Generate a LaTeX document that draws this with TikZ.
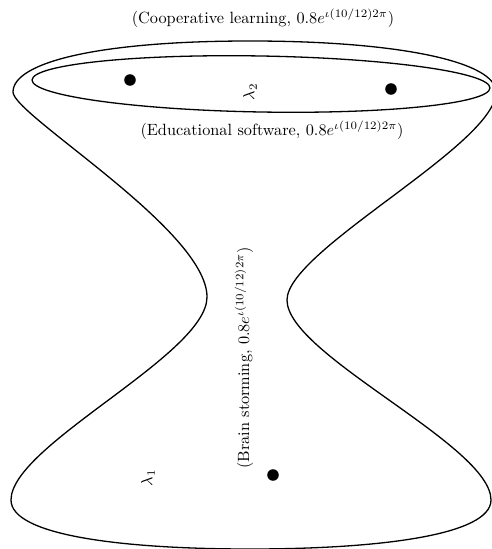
\documentclass[tikz,border=0pt]{standalone}
\usepackage{amsmath,amssymb}
\usepackage{tikz}
\usetikzlibrary{positioning}
\usepackage{xcolor}

\begin{document}
\begin{tikzpicture}[x=0.0216cm,y=-0.0216cm,
  dot/.style={circle,fill=black,inner sep=0pt,minimum size=0.25cm},
  lam/.style={rotate=90,inner sep=1pt},
  curve/.style={line width=0.8pt}]
\useasboundingbox (0,0) rectangle (491,549);
% outer region
\coordinate (top) at (250,41);
\coordinate (ul) at (13,92);
\coordinate (wl) at (207,297);
\coordinate (bl) at (11,500);
\coordinate (bot) at (250,549);
\coordinate (br) at (491,500);
\coordinate (wr) at (287,300);
\coordinate (ur) at (496,92);
\draw[curve] (top) .. controls (100,41) and (13,62) .. (ul)
  .. controls (13,115) and (207,230) .. (wl)
  .. controls (207,355) and (11,445) .. (bl)
  .. controls (11,535) and (120,549) .. (bot)
  .. controls (380,549) and (491,535) .. (br)
  .. controls (491,445) and (287,355) .. (wr)
  .. controls (287,250) and (496,145) .. (ur)
  .. controls (496,62) and (400,41) .. (top) -- cycle;
% inner region
\draw[curve,rotate around={-1:(261,84)}] (261,84) ellipse [x radius=229,y radius=28];
\node[dot] (p1) at (130,80) {};
\node[dot] (p2) at (391,89) {};
\node[dot] (p3) at (273,475) {};
\node[lam] (l2) at (250,92) {$\lambda_2$};
\node[lam] (l1) at (148,478) {$\lambda_1$};
\node (coop) at (263,18) {(Cooperative learning, $0.8e^{\iota(10/12)2\pi}$)};
\node (edu) at (272,130) {(Educational software, $0.8e^{\iota(10/12)2\pi}$)};
\node[rotate=90] (brain) at (244,358) {(Brain storming, $0.8e^{\iota(10/12)2\pi}$)};
\end{tikzpicture}
\end{document}
